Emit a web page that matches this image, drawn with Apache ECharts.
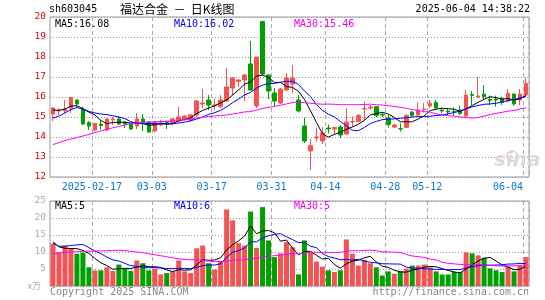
<!DOCTYPE html>
<html><head><meta charset="utf-8">
<script src="https://cdn.jsdelivr.net/npm/echarts@6.0.0/dist/echarts.min.js"></script>
<style>html,body{margin:0;padding:0;background:#fff}#c{width:545px;height:300px}</style>
</head><body><div id="c"></div>
<script>
const dates = [
'2025-02-06','2025-02-07','2025-02-10','2025-02-11','2025-02-12','2025-02-13','2025-02-14','2025-02-17','2025-02-18','2025-02-19',
'2025-02-20','2025-02-21','2025-02-24','2025-02-25','2025-02-26','2025-02-27','2025-02-28','2025-03-03','2025-03-04','2025-03-05',
'2025-03-06','2025-03-07','2025-03-10','2025-03-11','2025-03-12','2025-03-13','2025-03-14','2025-03-17','2025-03-18','2025-03-19',
'2025-03-20','2025-03-21','2025-03-24','2025-03-25','2025-03-26','2025-03-27','2025-03-28','2025-03-31','2025-04-01','2025-04-02',
'2025-04-03','2025-04-07','2025-04-08','2025-04-09','2025-04-10','2025-04-11','2025-04-14','2025-04-15','2025-04-16','2025-04-17',
'2025-04-18','2025-04-21','2025-04-22','2025-04-23','2025-04-24','2025-04-25','2025-04-28','2025-04-29','2025-04-30','2025-05-06',
'2025-05-07','2025-05-08','2025-05-09','2025-05-12','2025-05-13','2025-05-14','2025-05-15','2025-05-16','2025-05-19','2025-05-20',
'2025-05-21','2025-05-22','2025-05-23','2025-05-26','2025-05-27','2025-05-28','2025-05-29','2025-05-30','2025-06-03','2025-06-04'];
const opens = [15.15,15.3,15.3,15.45,15.85,15.4,14.72,14.35,14.65,14.35,
14.85,14.9,14.75,14.65,14.55,14.9,14.75,14.3,14.6,14.78,
14.7,14.8,14.9,14.85,15.1,15.65,15.85,15.55,15.52,15.8,
16.45,16.78,16.85,17.65,15.55,19.78,17.1,16.2,15.7,16.35,
16.65,15.85,14.55,13.3,13.95,13.8,14.45,14.4,14.5,14.15,
14.75,14.78,15.4,15.45,15.52,15.13,14.95,14.5,14.43,14.48,
15.25,15.1,15.36,15.55,15.72,15.35,15.3,15.28,15.35,15.05,
16.12,16.0,16.15,15.87,15.9,15.9,15.8,16.15,15.85,16.1];
const closes = [15.45,15.35,15.4,15.98,15.65,14.65,14.55,14.68,14.58,14.9,
14.9,14.65,14.65,14.4,14.9,14.75,14.25,14.75,14.7,14.72,
14.9,15.0,15.05,15.1,15.8,15.7,15.6,15.6,15.85,16.5,
16.95,16.85,17.1,16.35,18.0,17.15,16.3,15.8,16.4,16.95,
16.95,15.3,13.8,13.57,14.0,14.2,14.4,14.48,14.1,14.75,
14.78,15.08,15.42,15.5,15.08,15.1,14.63,14.6,14.4,15.08,
15.08,15.35,15.4,15.68,15.45,15.3,15.25,15.25,15.18,16.1,
16.08,16.05,16.02,15.83,15.85,15.73,16.18,15.65,16.15,16.68];
const lows = [14.8,15.1,15.2,15.2,15.5,14.6,14.35,14.3,14.35,14.3,
14.6,14.6,14.45,14.35,14.4,14.3,14.2,14.25,14.55,14.4,
14.6,14.75,14.8,14.75,15.0,15.45,15.35,15.35,15.45,15.75,
16.1,16.5,15.8,16.3,15.45,17.1,15.9,15.5,15.65,16.3,
16.2,15.23,13.7,12.35,13.77,13.65,14.18,14.1,13.95,14.1,
14.52,14.75,14.85,15.35,15.0,15.0,14.47,14.45,14.27,14.45,
15.0,15.0,15.23,15.43,15.43,15.18,15.1,15.07,15.1,14.93,
15.6,15.97,15.85,15.6,15.52,15.6,15.73,15.57,15.6,16.02];
const highs = [15.5,15.45,15.85,16.0,15.88,15.52,14.8,14.7,14.85,14.95,
15.0,15.05,14.8,14.7,15.2,15.15,14.8,14.8,14.85,14.82,
14.95,15.5,15.1,15.15,15.85,16.4,16.1,15.9,16.1,17.45,
17.0,16.9,17.15,18.8,18.0,19.8,17.15,16.45,16.45,17.2,
17.6,16.1,14.97,13.9,14.47,14.5,14.62,14.5,14.6,15.45,
15.02,15.15,15.77,15.6,15.55,15.23,15.1,14.65,14.68,15.15,
15.3,15.73,15.7,15.85,15.85,15.47,15.43,15.47,15.57,16.35,
16.3,16.98,16.6,16.07,16.07,16.02,16.4,16.17,16.4,16.97];
const volumes = [12.4,9.9,11.9,11.2,9.5,9.8,5.5,4.6,4.6,5.5,
4.4,6.3,5.1,4.4,7.5,6.7,4.6,5.1,3.4,3.8,
4.3,7.5,4.3,3.8,11.1,11.9,6.7,4.85,7.2,22.5,
19.3,12.6,11.9,21.9,11.2,23.2,13.4,8.5,9.6,12.9,
11.4,3.4,13.4,9.9,7.2,5.7,4.6,4.1,4.6,13.7,
9.5,6.0,7.7,6.7,5.5,3.1,4.3,3.6,4.3,5.1,
6.0,6.0,6.3,5.5,4.3,3.4,3.4,4.1,4.1,9.9,
9.6,9.0,8.3,5.2,4.6,4.1,5.7,4.3,6.0,8.5];
const ma5Head = [15.35,15.33,15.4,15.55];
const ma10Head = [14.95,15.05,15.2,15.38,15.47,15.4,15.28,15.2,15.15];
const ma30Head = [13.62,13.72,13.82,13.9,13.97,14.05,14.13,14.22,14.3,14.38,14.46,14.53,14.6,14.66,14.7,
14.73,14.75,14.76,14.77,14.78,14.8,14.83,14.87,14.91,14.95,14.99,15.02,15.05,15.08];
const vma5Head = [13.0,11.5,11.1,11.0];
const vma10Head = [12.6,11.7,11.7,11.9,12.1,12.2,11.3,10.3,9.5];
const vma30Head = [9.5,9.7,9.9,10.0,10.1,10.2,10.2,10.3,10.3,10.4,10.4,10.5,10.4,10.2,10.0,
9.8,9.5,9.2,8.9,8.6,8.3,8.0,7.8,7.7,7.7,7.5,7.3,7.2,7.2];
const tickDates = ['2025-02-17','2025-03-03','2025-03-17','2025-03-31','2025-04-14','2025-04-28','2025-05-12','2025-06-04'];
const tickLabels = ['2025-02-17','03-03','03-17','03-31','04-14','04-28','05-12','06-04'];

function ma(vals, n, head) {
  return vals.map((_, i) => {
    if (i < n - 1) return head[i];
    let s = 0; for (let k = i - n + 1; k <= i; k++) s += vals[k];
    return Math.round(s / n * 10000) / 10000;
  });
}
const ma5 = ma(closes, 5, ma5Head), ma10 = ma(closes, 10, ma10Head), ma30 = ma(closes, 30, ma30Head);
const vma5 = ma(volumes, 5, vma5Head), vma10 = ma(volumes, 10, vma10Head), vma30 = ma(volumes, 30, vma30Head);
const last = dates.length - 1;

const RED = '#f55353', GREEN = '#00a000';
const MONO = 'DejaVu Sans Mono';
const tickSet = new Set(tickDates);
const isTick = (idx, val) => tickSet.has(val);
const splitStyle = {show: true, interval: isTick, lineStyle: {type: [4, 3], color: '#aaa', width: 1}};

const chart = echarts.init(document.getElementById('c'), null, {renderer: 'canvas'});
chart.setOption({
  animation: false,
  backgroundColor: '#fff',
  grid: [
    {left: 50, top: 17, width: 479, height: 160, show: true, borderColor: '#999', borderWidth: 1, outerBoundsMode: 'none'},
    {left: 50, top: 201, width: 479, height: 85, show: true, borderColor: '#999', borderWidth: 1, outerBoundsMode: 'none'}
  ],
  xAxis: [
    {gridIndex: 0, type: 'category', data: dates, boundaryGap: true,
     axisLine: {show: false}, axisTick: {show: false},
     axisLabel: {interval: isTick, margin: 5, color: '#0a78d0', fontFamily: MONO, fontSize: 10,
       alignMinLabel: 'center', alignMaxLabel: 'right',
       formatter: (v) => { const k = tickDates.indexOf(v); const t = tickLabels[k];
         return k === tickDates.length - 1 ? '{b|' + t + '}' : '{a|' + t + '}'; },
       rich: {a: {padding: [0, 6, 0, 0], color: '#0a78d0', fontFamily: MONO, fontSize: 10},
              b: {padding: [0, 3, 0, 0], color: '#0a78d0', fontFamily: MONO, fontSize: 10}}},
     splitLine: splitStyle},
    {gridIndex: 1, type: 'category', data: dates, boundaryGap: true,
     axisLine: {show: false}, axisTick: {show: false}, axisLabel: {show: false},
     splitLine: splitStyle}
  ],
  yAxis: [
    {gridIndex: 0, type: 'value', min: 12, max: 20, interval: 1,
     axisLine: {show: false}, axisTick: {show: false},
     axisLabel: {color: '#e00000', fontFamily: MONO, fontSize: 9.5, margin: 4},
     splitLine: {lineStyle: {type: [1, 2], color: '#999'}}},
    {gridIndex: 1, type: 'value', min: 0, max: 25, interval: 5,
     axisLine: {show: false}, axisTick: {show: false},
     axisLabel: {color: '#aaa', fontFamily: MONO, fontSize: 9.5, margin: 4,
       formatter: (v) => v === 0 ? '{u|x万}' : String(v),
       rich: {u: {color: '#aaa', fontFamily: 'Noto Sans CJK SC', fontSize: 9, padding: [0, 5, 0, 0]}}},
     splitLine: {lineStyle: {type: [1, 2], color: '#999'}}}
  ],
  series: [
    {type: 'candlestick', xAxisIndex: 0, yAxisIndex: 0, barWidth: 4,
     data: dates.map((d, i) => [opens[i], closes[i], lows[i], highs[i]]),
     itemStyle: {color: RED, color0: GREEN, borderColor: RED, borderColor0: GREEN, borderWidth: 1}},
    {type: 'line', xAxisIndex: 0, yAxisIndex: 0, data: ma5, symbol: 'none', lineStyle: {color: '#000', width: 1}, z: 5},
    {type: 'line', xAxisIndex: 0, yAxisIndex: 0, data: ma10, symbol: 'none', lineStyle: {color: '#0000ff', width: 1}, z: 5},
    {type: 'line', xAxisIndex: 0, yAxisIndex: 0, data: ma30, symbol: 'none', lineStyle: {color: '#ff00ff', width: 1}, z: 5},
    {type: 'bar', xAxisIndex: 1, yAxisIndex: 1, barWidth: 5,
     data: volumes.map((v, i) => ({value: v, itemStyle: {color: closes[i] >= opens[i] ? RED : GREEN}}))},
    {type: 'line', xAxisIndex: 1, yAxisIndex: 1, data: vma5, symbol: 'none', lineStyle: {color: '#000', width: 1}, z: 5},
    {type: 'line', xAxisIndex: 1, yAxisIndex: 1, data: vma10, symbol: 'none', lineStyle: {color: '#0000ff', width: 1}, z: 5},
    {type: 'line', xAxisIndex: 1, yAxisIndex: 1, data: vma30, symbol: 'none', lineStyle: {color: '#ff00ff', width: 1}, z: 5}
  ],
  graphic: [
    {type: 'text', left: 49, top: 4, style: {text: 'sh603045', fill: '#000', font: '10px "DejaVu Sans Mono"'}},
    {type: 'text', left: 120, top: 3, style: {text: '福达合金  －  日K线图', fill: '#000', font: '12px "Noto Sans CJK SC"'}},
    {type: 'text', right: 15, top: 4, style: {text: '2025-06-04 14:38:22', fill: '#000', font: '10px "DejaVu Sans Mono"'}},
    {type: 'text', left: 55, top: 19, z: 10, style: {text: 'MA5:' + ma5[last].toFixed(2), fill: '#000', font: '10px "DejaVu Sans Mono"'}},
    {type: 'text', left: 174, top: 19, z: 10, style: {text: 'MA10:' + ma10[last].toFixed(2), fill: '#0000ee', font: '10px "DejaVu Sans Mono"'}},
    {type: 'text', left: 294, top: 19, z: 10, style: {text: 'MA30:' + ma30[last].toFixed(2), fill: '#ee00ee', font: '10px "DejaVu Sans Mono"'}},
    {type: 'text', left: 55, top: 201, z: 10, style: {text: 'MA5:' + Math.floor(vma5[last]), fill: '#000', font: '10px "DejaVu Sans Mono"'}},
    {type: 'text', left: 174, top: 201, z: 10, style: {text: 'MA10:' + Math.floor(vma10[last]), fill: '#0000ee', font: '10px "DejaVu Sans Mono"'}},
    {type: 'text', left: 294, top: 201, z: 10, style: {text: 'MA30:' + Math.floor(vma30[last]), fill: '#ee00ee', font: '10px "DejaVu Sans Mono"'}},
    {type: 'text', left: 50, top: 287, style: {text: 'Copyright 2025 SINA.COM', fill: '#888', font: '10px "DejaVu Sans Mono"'}},
    {type: 'text', right: 16, top: 287, style: {text: 'http://finance.sina.com.cn', fill: '#888', font: '10px "DejaVu Sans Mono"'}},
    {type: 'circle', shape: {cx: 512, cy: 156, r: 5}, z: 1, style: {fill: 'none', stroke: '#f6cccc', lineWidth: 2}},
    {type: 'text', left: 494, top: 151, z: 1, style: {text: 'sina', fill: '#dadada', font: 'italic bold 20px "DejaVu Sans"'}}
  ]
});
</script></body></html>
